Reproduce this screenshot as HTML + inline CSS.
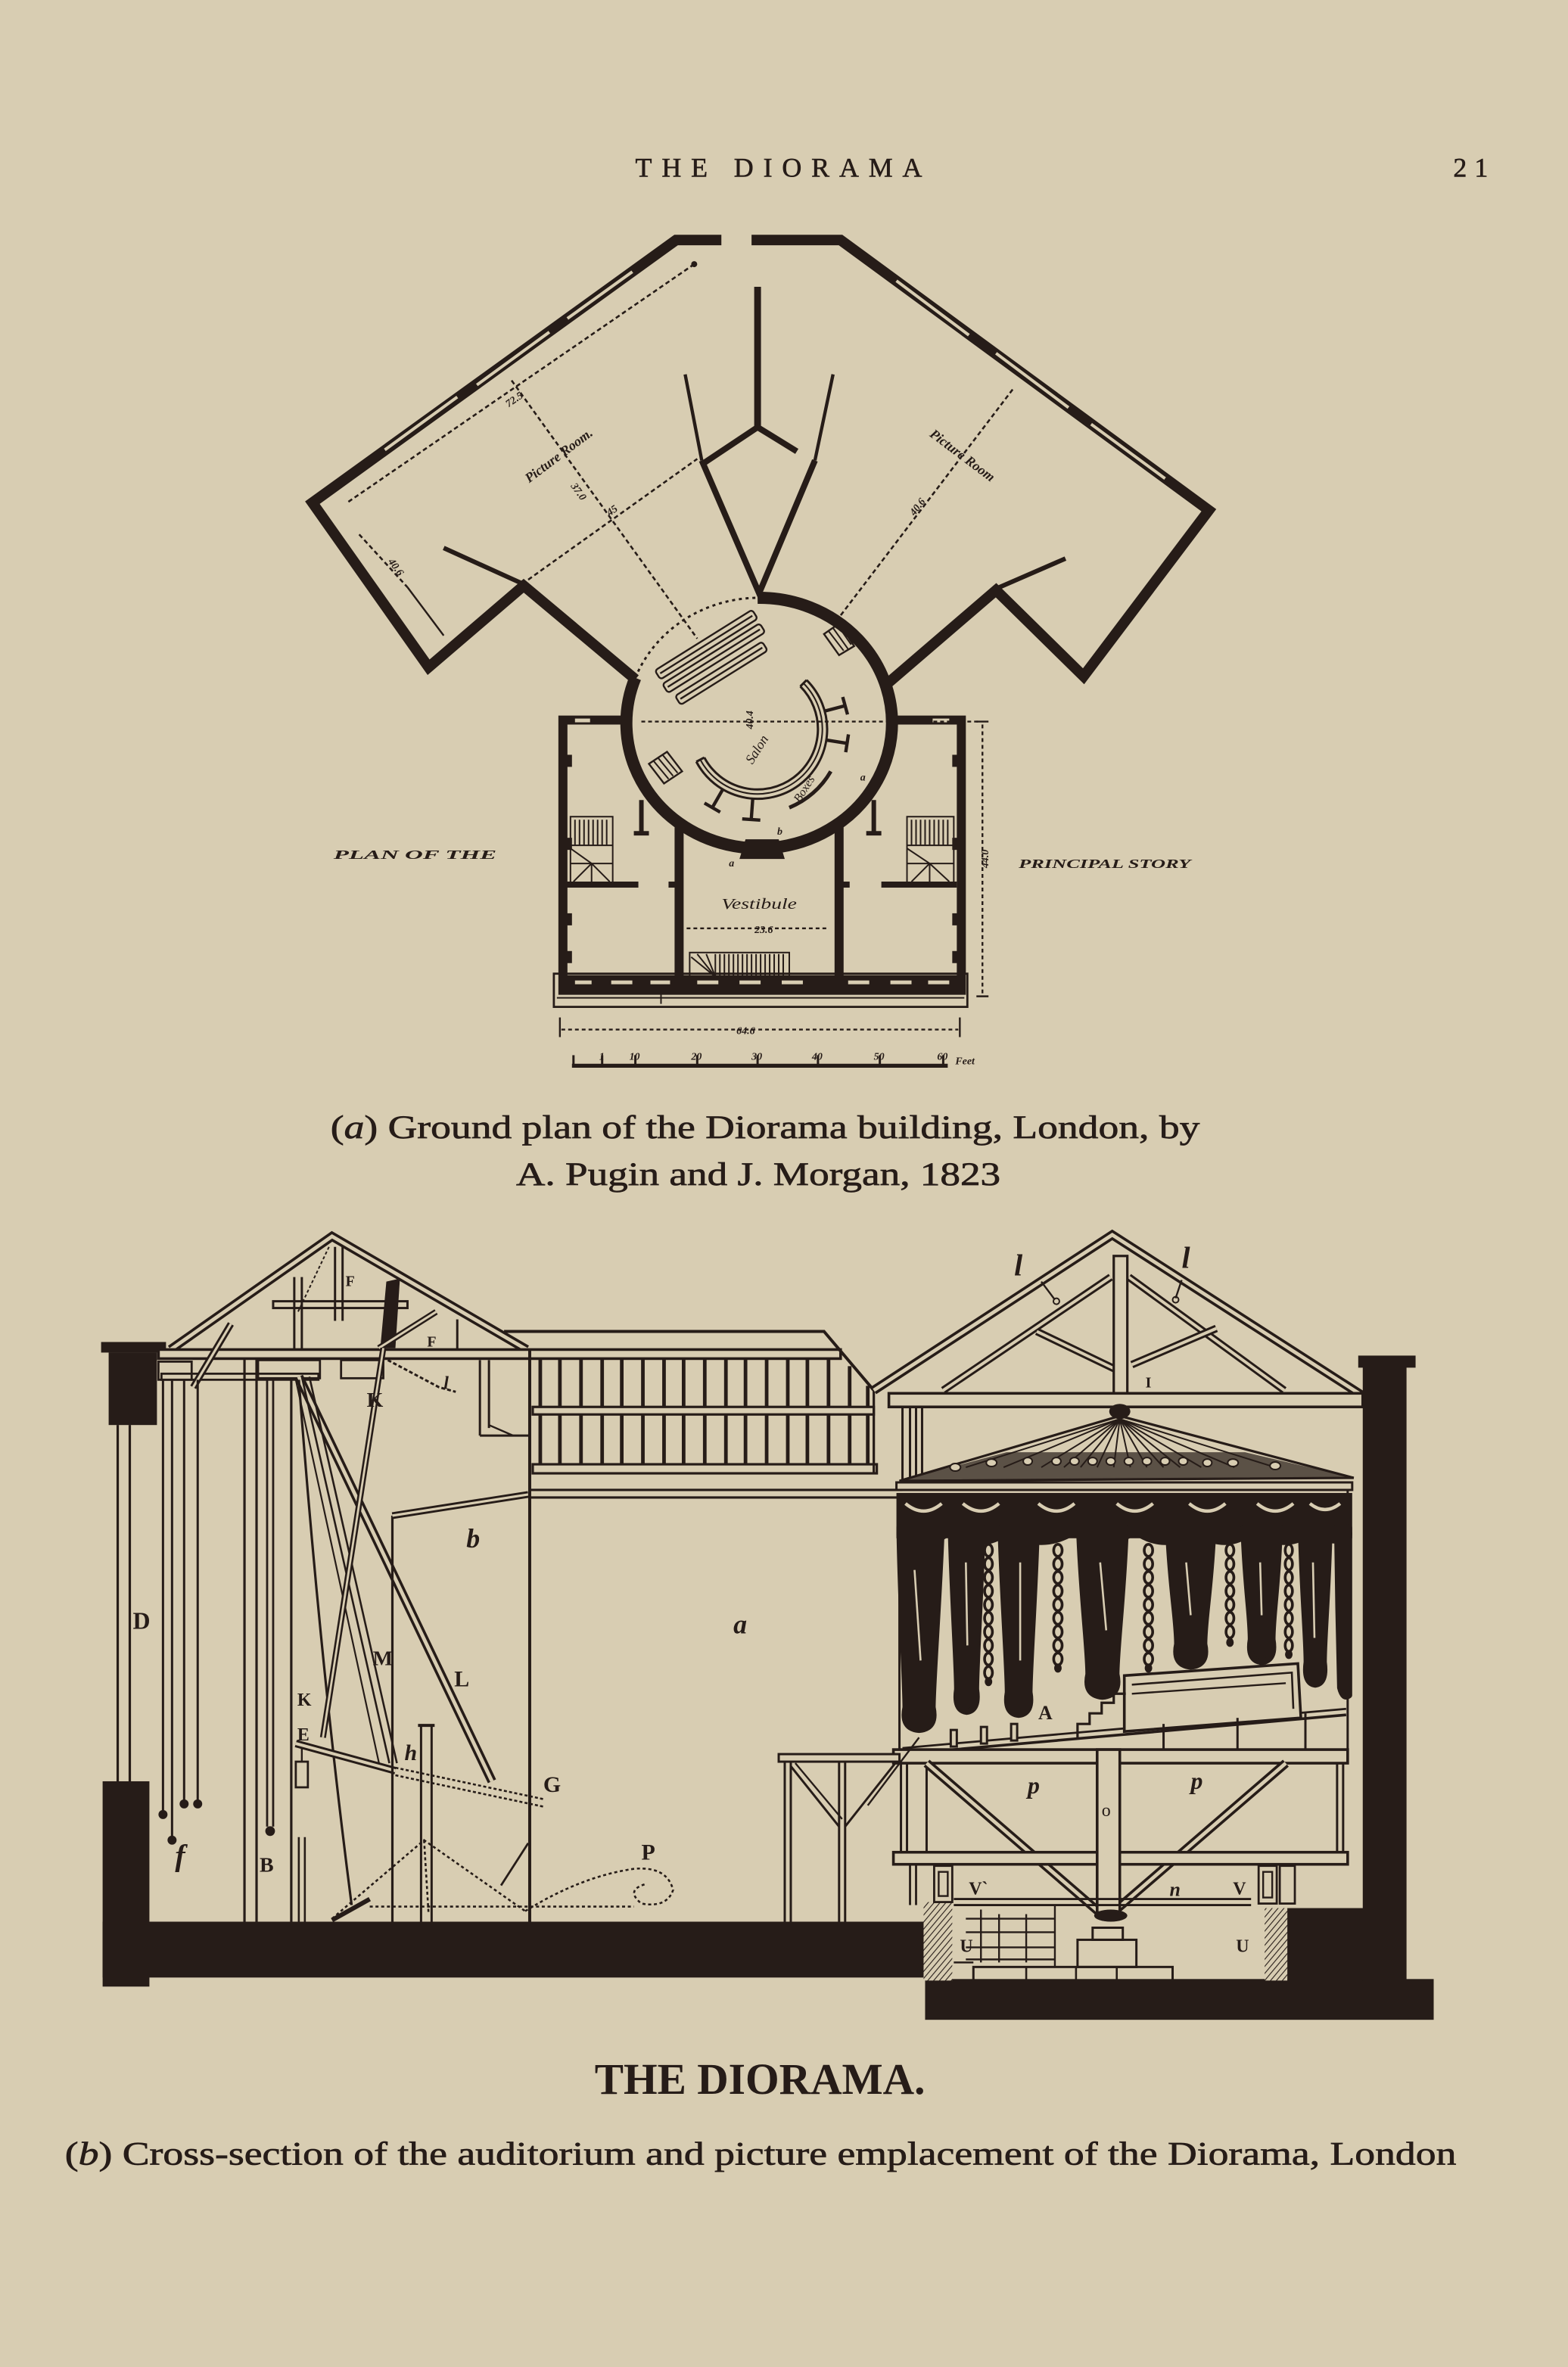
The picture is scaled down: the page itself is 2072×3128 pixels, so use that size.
<!DOCTYPE html>
<html><head><meta charset="utf-8"><title>The Diorama</title>
<style>html,body{margin:0;padding:0;background:#d8cdb2;overflow:hidden}svg{display:block}</style>
</head><body>
<svg xmlns="http://www.w3.org/2000/svg" width="2072" height="3128" viewBox="0 0 1039 1568" preserveAspectRatio="none">
<defs>
<pattern id="hatch" width="3" height="3" patternUnits="userSpaceOnUse" patternTransform="rotate(40)">
<rect width="3" height="3" fill="#d8cdb2"/><line x1="0" y1="0" x2="0" y2="3" stroke="#261c18" stroke-width="1.1"/>
</pattern>
</defs>
<rect width="1039" height="1568" fill="#d8cdb2"/>

<!-- HEADER -->
<g font-family="'Liberation Serif', serif" fill="#261c18" stroke="#261c18" stroke-width="0.3">
<text x="421" y="117" font-size="18" textLength="190" lengthAdjust="spacing">THE DIORAMA</text>
<text x="963" y="117" font-size="18" textLength="23" lengthAdjust="spacing">21</text>
</g>

<!-- ================= PLAN ================= -->
<g stroke="#261c18" fill="none" stroke-linejoin="miter">
<path d="M478,159 L448,159 L207,333 L284,442 L347,388 L421,450" stroke-width="7"/>
<path d="M498,159 L557,159 L801,338 L718,448 L660,391 L589,452" stroke-width="7"/>
<g stroke="#d8cdb2" stroke-width="2">
<line x1="419" y1="180" x2="376" y2="211"/>
<line x1="364" y1="220" x2="316" y2="255"/>
<line x1="303" y1="263" x2="255" y2="298"/>
<line x1="594" y1="186" x2="642" y2="222"/>
<line x1="660" y1="234" x2="708" y2="270"/>
<line x1="723" y1="281" x2="772" y2="317"/>
</g>
<!-- room interior lines -->
<line x1="294" y1="363" x2="347" y2="387" stroke-width="3"/>
<line x1="706" y1="370" x2="660" y2="390" stroke-width="3"/>
<line x1="270" y1="389" x2="294" y2="421" stroke-width="1.2"/>
<!-- central V / Y -->
<line x1="502" y1="190" x2="502" y2="284" stroke-width="4.5"/>
<path d="M466,307 L502,283 L528,299" stroke-width="4"/>
<line x1="454" y1="248" x2="465" y2="305" stroke-width="2.2"/>
<line x1="552" y1="248" x2="540" y2="305" stroke-width="2.2"/>
<path d="M465,305 L503,393 L540,305" stroke-width="4"/>
<!-- dotted dimension lines in rooms -->
<g stroke-width="1.3" stroke-dasharray="3 2">
<line x1="460" y1="175" x2="230" y2="333"/>
<line x1="339" y1="252" x2="462" y2="423"/>
<line x1="350" y1="384" x2="462" y2="304"/>
<line x1="238" y1="354" x2="270" y2="389"/>
<line x1="671" y1="258" x2="556" y2="409"/>
</g>
<circle cx="460" cy="175" r="2" fill="#261c18" stroke="none"/>
<!-- rotunda -->
<path d="M502,396 A88,83 0 1,1 421,449" stroke-width="8"/>
<path d="M421,449 A88,83 0 0,1 502,396" stroke-width="1.5" stroke-dasharray="2 2.5"/>
<!-- main block -->
<path d="M416,477 L373,477 L373,656 L637,656 L637,477 L590,477" stroke-width="6"/>
<rect x="373" y="646" width="264" height="10" fill="#261c18" stroke="none"/>
<g fill="#d8cdb2" stroke="none">
<rect x="381" y="649.5" width="11" height="2.5"/><rect x="405" y="649.5" width="14" height="2.5"/>
<rect x="431" y="649.5" width="13" height="2.5"/><rect x="462" y="649.5" width="14" height="2.5"/>
<rect x="490" y="649.5" width="14" height="2.5"/><rect x="518" y="649.5" width="14" height="2.5"/>
<rect x="562" y="649.5" width="14" height="2.5"/><rect x="590" y="649.5" width="14" height="2.5"/>
<rect x="615" y="649.5" width="14" height="2.5"/>
<rect x="381" y="476" width="10" height="2.5"/><rect x="618" y="476" width="11" height="2.5"/>
</g>
<rect x="367" y="645" width="274" height="22" stroke-width="1.4"/>
<line x1="369" y1="661" x2="639" y2="661" stroke-width="1"/>
<line x1="438" y1="657" x2="438" y2="665" stroke-width="1"/>
<g fill="#261c18" stroke="none">
<rect x="375" y="500" width="4" height="8"/><rect x="375" y="555" width="4" height="8"/>
<rect x="375" y="605" width="4" height="8"/><rect x="375" y="630" width="4" height="8"/>
<rect x="631" y="500" width="4" height="8"/><rect x="631" y="555" width="4" height="8"/>
<rect x="631" y="605" width="4" height="8"/><rect x="631" y="630" width="4" height="8"/>
</g>
<line x1="450" y1="548" x2="450" y2="651" stroke-width="6"/>
<line x1="556" y1="548" x2="556" y2="651" stroke-width="6"/>
<line x1="375" y1="586" x2="423" y2="586" stroke-width="4"/>
<line x1="443" y1="586" x2="450" y2="586" stroke-width="4"/>
<line x1="556" y1="586" x2="563" y2="586" stroke-width="4"/>
<line x1="584" y1="586" x2="634" y2="586" stroke-width="4"/>
<line x1="425" y1="530" x2="425" y2="552" stroke-width="3"/>
<line x1="420" y1="552" x2="430" y2="552" stroke-width="3"/>
<line x1="579" y1="530" x2="579" y2="552" stroke-width="3"/>
<line x1="574" y1="552" x2="584" y2="552" stroke-width="3"/>
<!-- stairs -->
<g stroke-width="1">
<rect x="378" y="541" width="28" height="44"/>
<path d="M381,543 V560 M384,543 V560 M387,543 V560 M390,543 V560 M393,543 V560 M396,543 V560 M399,543 V560 M402,543 V560"/>
<path d="M392,572 L378,562 M392,572 L378,572 M392,572 L380,584 M392,572 L392,585 M392,572 L404,584 M392,572 L406,572 M378,560 H406"/>
<rect x="601" y="541" width="31" height="44"/>
<path d="M604,543 V560 M607,543 V560 M610,543 V560 M613,543 V560 M616,543 V560 M619,543 V560 M622,543 V560 M625,543 V560 M628,543 V560"/>
<path d="M616,572 L601,562 M616,572 L601,572 M616,572 L604,584 M616,572 L616,585 M616,572 L629,584 M616,572 L632,572 M601,560 H632"/>
<rect x="457" y="631" width="66" height="17"/>
<path d="M477,632 V647 M480,632 V647 M483,632 V647 M486,632 V647 M489,632 V647 M492,632 V647 M495,632 V647 M498,632 V647 M501,632 V647 M504,632 V647 M507,632 V647 M510,632 V647 M513,632 V647 M516,632 V647 M519,632 V647"/>
<path d="M474,647 L458,634 M474,647 L462,632 M474,647 L468,632 M474,647 L474,632"/>
</g>
<!-- salon seating strips -->
<g stroke-width="1.2">
<g transform="translate(468,427) rotate(-32)"><rect x="-38" y="-3.5" width="76" height="7" rx="2"/><line x1="-36" y1="0" x2="36" y2="0"/></g>
<g transform="translate(473,436) rotate(-32)"><rect x="-38" y="-3.5" width="76" height="7" rx="2"/><line x1="-36" y1="0" x2="36" y2="0"/></g>
<g transform="translate(478,446) rotate(-32)"><rect x="-34" y="-3.5" width="68" height="7" rx="2"/><line x1="-32" y1="0" x2="32" y2="0"/></g>
</g>
<path d="M546,420 L556,413 L566,428 L556,434 Z" stroke-width="1.2"/>
<path d="M549,418 L559,431 M552,416 L562,430 M555,414 L564,427" stroke-width="1"/>
<path d="M430,506 L442,498 L452,511 L440,519 Z" stroke-width="1.2"/>
<path d="M433,504 L443,516 M436,502 L446,514 M439,500 L449,512" stroke-width="1"/>
<!-- boxes ring -->
<path d="M534.5,450.5 A46,46 0 1,1 461.4,504.6" stroke-width="1.5"/>
<path d="M532.4,452.6 A43,43 0 1,1 464,503.2" stroke-width="1"/>
<path d="M530.3,454.7 A40,40 0 1,1 466.7,501.8" stroke-width="1.5"/>
<line x1="534.5" y1="450.5" x2="530.3" y2="454.7" stroke-width="1.5"/>
<line x1="461.4" y1="504.6" x2="466.7" y2="501.8" stroke-width="1.5"/>
<g stroke-width="2.2">
<line x1="546.4" y1="471.1" x2="560" y2="467.5"/><line x1="558.4" y1="461.7" x2="561.6" y2="473.3"/>
<line x1="547.4" y1="490.2" x2="561.3" y2="492.4"/><line x1="562.2" y1="486.5" x2="560.4" y2="498.3"/>
<line x1="498.8" y1="528.9" x2="497.8" y2="542.9"/><line x1="503.8" y1="543.3" x2="491.8" y2="542.5"/>
<line x1="479" y1="522.8" x2="472" y2="535"/><line x1="477.2" y1="538" x2="466.8" y2="532"/>
</g>
<path d="M550.5,511 A56,56 0 0,1 523,535" stroke-width="2.5"/>
<path d="M494,556 L516,556 L520,569 L490,569 Z" fill="#261c18" stroke="none"/>
<!-- dimension lines -->
<g stroke-width="1.2" stroke-dasharray="2.5 2">
<line x1="425" y1="478" x2="648" y2="478"/>
<line x1="651" y1="480" x2="651" y2="660"/>
<line x1="372" y1="682" x2="635" y2="682"/>
<line x1="455" y1="615" x2="548" y2="615"/>
</g>
<g stroke-width="1.2">
<line x1="371" y1="674" x2="371" y2="687"/><line x1="636" y1="674" x2="636" y2="687"/>
<line x1="647" y1="478" x2="655" y2="478"/><line x1="647" y1="660" x2="655" y2="660"/>
</g>
<!-- scale bar -->
<line x1="379" y1="706" x2="628" y2="706" stroke-width="2.6"/>
<g stroke-width="1.5">
<line x1="380" y1="699" x2="380" y2="706"/><line x1="399" y1="699" x2="399" y2="706"/>
<line x1="421" y1="699" x2="421" y2="706"/><line x1="462" y1="699" x2="462" y2="706"/>
<line x1="502" y1="699" x2="502" y2="706"/><line x1="542" y1="699" x2="542" y2="706"/>
<line x1="583" y1="699" x2="583" y2="706"/><line x1="625" y1="699" x2="625" y2="706"/>
</g>
</g>

<!-- plan labels -->
<g font-family="'Liberation Serif', serif" fill="#261c18" font-style="italic" font-weight="bold">
<text x="221" y="569" font-size="8.5" textLength="108" lengthAdjust="spacingAndGlyphs">PLAN OF THE</text>
<text x="675" y="575" font-size="8.5" textLength="114" lengthAdjust="spacingAndGlyphs">PRINCIPAL STORY</text>
<text x="478" y="602" font-size="10" font-weight="normal" textLength="50" lengthAdjust="spacingAndGlyphs">Vestibule</text>
<text transform="translate(372,304) rotate(-37)" text-anchor="middle" font-size="9">Picture Room.</text>
<text transform="translate(636,304) rotate(37)" text-anchor="middle" font-size="9">Picture Room</text>
<text transform="translate(504,498) rotate(-58)" text-anchor="middle" font-size="9" font-weight="normal">Salon</text>
<text transform="translate(535,524) rotate(-58)" text-anchor="middle" font-size="8" font-weight="normal">Boxes</text>
<g font-size="7">
<text transform="translate(337,270) rotate(-35)">72.5</text>
<text transform="translate(378,322) rotate(54)">37.0</text>
<text transform="translate(404,342) rotate(-35)">45</text>
<text transform="translate(257,372) rotate(54)">40.6</text>
<text transform="translate(606,342) rotate(-53)">40.6</text>
<text transform="translate(499,483) rotate(-90)">40.4</text>
<text transform="translate(655,575) rotate(-90)">44.0</text>
<text x="488" y="685">64.6</text>
<text x="500" y="618">23.6</text>
<text x="570" y="517">a</text><text x="515" y="553">b</text><text x="483" y="574">a</text>
<text x="397" y="702">1</text><text x="417" y="702">10</text><text x="458" y="702">20</text>
<text x="498" y="702">30</text><text x="538" y="702">40</text><text x="579" y="702">50</text>
<text x="621" y="702">60</text><text x="633" y="705">Feet</text>
</g>
</g>

<!-- caption a -->
<g font-family="'Liberation Serif', serif" fill="#261c18" stroke="#261c18" stroke-width="0.35">
<text x="219" y="754" font-size="22" textLength="576" lengthAdjust="spacingAndGlyphs">(<tspan font-style="italic">a</tspan>) Ground plan of the Diorama building, London, by</text>
<text x="342" y="785" font-size="22" textLength="321" lengthAdjust="spacingAndGlyphs">A. Pugin and J. Morgan, 1823</text>
</g>

<!-- ================= SECTION ================= -->
<g stroke="#261c18" fill="none">
<!-- ground & walls -->
<g fill="#261c18" stroke="none">
<rect x="68" y="1273" width="545" height="37"/>
<rect x="68" y="1180" width="31" height="136"/>
<rect x="67" y="889" width="43" height="7"/>
<rect x="72" y="896" width="32" height="48"/>
<rect x="613" y="1311" width="337" height="27"/>
<rect x="853" y="1264" width="52" height="48"/>
<rect x="903" y="905" width="29" height="408"/>
<rect x="900" y="898" width="38" height="8"/>
</g>
<rect x="612" y="1260" width="19" height="52" fill="url(#hatch)" stroke="none"/>
<rect x="838" y="1264" width="15" height="48" fill="url(#hatch)" stroke="none"/>
<line x1="78" y1="944" x2="78" y2="1180" stroke-width="1.6"/>
<line x1="86" y1="944" x2="86" y2="1180" stroke-width="1.6"/>

<!-- left roof -->
<path d="M113,894 L220,819 L349,894" stroke-width="6" stroke-linejoin="miter"/>
<path d="M113,894 L220,819 L349,894" stroke-width="2.4" stroke="#d8cdb2" stroke-linejoin="miter"/>
<rect x="105" y="894" width="452" height="6" stroke-width="1.8" fill="#d8cdb2"/>
<rect x="107" y="910" width="104" height="4" stroke-width="1.4"/>
<rect x="171" y="901" width="41" height="12" stroke-width="1.4"/>
<rect x="226" y="901" width="28" height="12" stroke-width="1.4"/>
<rect x="105" y="902" width="22" height="12" stroke-width="1.4"/>
<rect x="181" y="862" width="89" height="4.5" stroke-width="1.5"/>
<line x1="195" y1="846" x2="195" y2="894" stroke-width="1.5"/>
<line x1="200" y1="846" x2="200" y2="894" stroke-width="1.5"/>
<line x1="222" y1="826" x2="222" y2="875" stroke-width="1.5"/>
<line x1="227" y1="826" x2="227" y2="875" stroke-width="1.5"/>
<line x1="218" y1="826" x2="197" y2="870" stroke-width="1" stroke-dasharray="2 1.5"/>
<path d="M256,849 L265,847 L262,893 L252,893 Z" fill="#261c18" stroke="none"/>
<path d="M153,877 L128,919" stroke-width="4.5"/>
<path d="M153,877 L128,919" stroke-width="1.6" stroke="#d8cdb2"/>
<path d="M251,893 L289,869" stroke-width="4"/>
<path d="M251,893 L289,869" stroke-width="1.5" stroke="#d8cdb2"/>
<line x1="303" y1="874" x2="303" y2="894" stroke-width="1.5"/>
<path d="M257,901 L291,919 L302,922" stroke-width="1.5" stroke-dasharray="2.5 1.5"/>
<!-- posts and ropes -->
<line x1="162" y1="900" x2="162" y2="1273" stroke-width="1.6"/>
<line x1="170" y1="900" x2="170" y2="1273" stroke-width="1.6"/>
<line x1="193" y1="913" x2="193" y2="1273" stroke-width="1.6"/>
<line x1="198" y1="1217" x2="198" y2="1273" stroke-width="1.3"/>
<line x1="202" y1="1217" x2="202" y2="1273" stroke-width="1.3"/>
<line x1="108" y1="914" x2="108" y2="1200" stroke-width="1.5"/>
<line x1="114" y1="914" x2="114" y2="1217" stroke-width="1.5"/>
<line x1="122" y1="914" x2="122" y2="1193" stroke-width="1.5"/>
<line x1="131" y1="914" x2="131" y2="1193" stroke-width="1.5"/>
<line x1="177" y1="913" x2="177" y2="1210" stroke-width="1.4"/>
<line x1="181" y1="913" x2="181" y2="1210" stroke-width="1.4"/>
<g fill="#261c18" stroke="none">
<circle cx="108" cy="1202" r="3"/><circle cx="114" cy="1219" r="3"/>
<circle cx="122" cy="1195" r="3"/><circle cx="131" cy="1195" r="3"/>
<circle cx="179" cy="1213" r="3.2"/>
</g>
<!-- diagonals -->
<line x1="198" y1="912" x2="326" y2="1180" stroke-width="6"/>
<line x1="198" y1="912" x2="326" y2="1180" stroke-width="2.4" stroke="#d8cdb2"/>
<line x1="200" y1="912" x2="258" y2="1168" stroke-width="1.3"/>
<line x1="205" y1="912" x2="263" y2="1168" stroke-width="1.3"/>
<line x1="196" y1="914" x2="252" y2="1172" stroke-width="1.1"/>
<path d="M198,914 Q212,1100 233,1262" stroke-width="1.6"/>
<line x1="254" y1="893" x2="214" y2="1151" stroke-width="4"/>
<line x1="254" y1="893" x2="214" y2="1151" stroke-width="1.4" stroke="#d8cdb2"/>
<!-- lever -->
<line x1="196" y1="1155" x2="262" y2="1173" stroke-width="5"/>
<line x1="196" y1="1155" x2="262" y2="1173" stroke-width="2" stroke="#d8cdb2"/>
<line x1="262" y1="1171" x2="361" y2="1192" stroke-width="1.3" stroke-dasharray="2 1.5"/>
<line x1="262" y1="1176" x2="361" y2="1197" stroke-width="1.3" stroke-dasharray="2 1.5"/>
<rect x="196" y="1167" width="8" height="17" stroke-width="1.4"/>
<line x1="200" y1="1158" x2="200" y2="1167" stroke-width="1.2"/>
<line x1="279" y1="1143" x2="279" y2="1273" stroke-width="1.5"/>
<line x1="286" y1="1143" x2="286" y2="1273" stroke-width="1.5"/>
<line x1="277" y1="1143" x2="288" y2="1143" stroke-width="2"/>
<!-- b partition & a wall -->
<line x1="260" y1="1004" x2="260" y2="1273" stroke-width="1.6"/>
<line x1="260" y1="1004" x2="350" y2="990" stroke-width="4.5"/>
<line x1="260" y1="1004" x2="350" y2="990" stroke-width="1.6" stroke="#d8cdb2"/>
<line x1="351" y1="894" x2="351" y2="1273" stroke-width="2"/>
<line x1="318" y1="901" x2="318" y2="951" stroke-width="1.5"/>
<line x1="324" y1="901" x2="324" y2="946" stroke-width="1.5"/>
<line x1="318" y1="951" x2="351" y2="951" stroke-width="1.5"/>
<line x1="324" y1="944" x2="340" y2="951" stroke-width="1.2"/>
<!-- dotted mechanism -->
<g stroke-width="1.3" stroke-dasharray="2 1.8">
<path d="M220,1271 L281,1219 L348,1266"/>
<line x1="245" y1="1263" x2="420" y2="1263"/>
<path d="M348,1266 Q385,1243 420,1238 Q442,1236 446,1252 Q442,1264 425,1261 Q414,1252 428,1248"/>
<line x1="281" y1="1219" x2="284" y2="1268"/>
</g>
<line x1="350" y1="1221" x2="332" y2="1249" stroke-width="1.4"/>
<line x1="220" y1="1272" x2="245" y2="1258" stroke-width="3"/>

<!-- gallery -->
<path d="M334,882 L546,882 L579,921" stroke-width="2"/>
<g stroke-width="2.4">
<line x1="358" y1="900" x2="358" y2="970"/><line x1="371" y1="900" x2="371" y2="970"/>
<line x1="385" y1="900" x2="385" y2="970"/><line x1="399" y1="900" x2="399" y2="970"/>
<line x1="412" y1="900" x2="412" y2="970"/><line x1="426" y1="900" x2="426" y2="970"/>
<line x1="440" y1="900" x2="440" y2="970"/><line x1="453" y1="900" x2="453" y2="970"/>
<line x1="467" y1="900" x2="467" y2="970"/><line x1="481" y1="900" x2="481" y2="970"/>
<line x1="494" y1="900" x2="494" y2="970"/><line x1="508" y1="900" x2="508" y2="970"/>
<line x1="522" y1="900" x2="522" y2="970"/><line x1="535" y1="900" x2="535" y2="970"/>
<line x1="549" y1="900" x2="549" y2="970"/><line x1="563" y1="905" x2="563" y2="970"/>
<line x1="575" y1="918" x2="575" y2="970"/>
</g>
<rect x="353" y="932" width="226" height="5" stroke-width="1.6" fill="#d8cdb2"/>
<rect x="353" y="970" width="228" height="6" stroke-width="1.6" fill="#d8cdb2"/>
<line x1="579" y1="921" x2="579" y2="976" stroke-width="1.6"/>
<line x1="351" y1="987" x2="598" y2="987" stroke-width="1.6"/>
<line x1="351" y1="992" x2="598" y2="992" stroke-width="1.6"/>

<!-- right roof -->
<path d="M579,921 L737,818 L902,924" stroke-width="6" stroke-linejoin="miter"/>
<path d="M579,921 L737,818 L902,924" stroke-width="2.4" stroke="#d8cdb2" stroke-linejoin="miter"/>
<line x1="625" y1="921" x2="736" y2="846" stroke-width="5"/>
<line x1="625" y1="921" x2="736" y2="846" stroke-width="2" stroke="#d8cdb2"/>
<line x1="851" y1="921" x2="748" y2="846" stroke-width="5"/>
<line x1="851" y1="921" x2="748" y2="846" stroke-width="2" stroke="#d8cdb2"/>
<line x1="687" y1="882" x2="739" y2="907" stroke-width="5"/>
<line x1="687" y1="882" x2="739" y2="907" stroke-width="2" stroke="#d8cdb2"/>
<line x1="806" y1="880" x2="750" y2="904" stroke-width="5"/>
<line x1="806" y1="880" x2="750" y2="904" stroke-width="2" stroke="#d8cdb2"/>
<rect x="738" y="832" width="9" height="91" stroke-width="1.6" fill="#d8cdb2"/>
<rect x="589" y="923" width="314" height="9" stroke-width="1.8" fill="#d8cdb2"/>
<line x1="690" y1="849" x2="699" y2="861" stroke-width="1.2"/>
<circle cx="700" cy="862" r="2" stroke-width="1"/>
<line x1="783" y1="848" x2="779" y2="860" stroke-width="1.2"/>
<circle cx="779" cy="861" r="2" stroke-width="1"/>
<line x1="598" y1="932" x2="598" y2="983" stroke-width="1.5"/>
<line x1="603" y1="932" x2="603" y2="983" stroke-width="1.5"/>
<line x1="607" y1="932" x2="607" y2="983" stroke-width="1.5"/>
<line x1="611" y1="932" x2="611" y2="983" stroke-width="1.5"/>

<!-- canopy -->
<polygon points="742,938 596,981 897,979" fill="#d8cdb2" stroke-width="1.6"/>
<path d="M667,962 L825,962 L897,979 L596,981 Z" fill="#261c18" stroke="none" opacity="0.7"/>
<g stroke-width="1">
<line x1="742" y1="940" x2="640" y2="972"/><line x1="742" y1="940" x2="665" y2="972"/>
<line x1="742" y1="940" x2="690" y2="972"/><line x1="742" y1="940" x2="705" y2="972"/>
<line x1="742" y1="940" x2="716" y2="972"/><line x1="742" y1="940" x2="727" y2="972"/>
<line x1="742" y1="940" x2="738" y2="972"/><line x1="742" y1="940" x2="749" y2="972"/>
<line x1="742" y1="940" x2="760" y2="972"/><line x1="742" y1="940" x2="771" y2="972"/>
<line x1="742" y1="940" x2="782" y2="972"/><line x1="742" y1="940" x2="796" y2="972"/>
<line x1="742" y1="940" x2="818" y2="972"/><line x1="742" y1="940" x2="845" y2="972"/>
</g>
<g fill="#d8cdb2" stroke-width="1">
<ellipse cx="633" cy="972" rx="3.5" ry="2.5"/><ellipse cx="657" cy="969" rx="3.5" ry="2.5"/>
<ellipse cx="681" cy="968" rx="3" ry="2.5"/><ellipse cx="700" cy="968" rx="3" ry="2.5"/>
<ellipse cx="712" cy="968" rx="3" ry="2.5"/><ellipse cx="724" cy="968" rx="3" ry="2.5"/>
<ellipse cx="736" cy="968" rx="3" ry="2.5"/><ellipse cx="748" cy="968" rx="3" ry="2.5"/>
<ellipse cx="760" cy="968" rx="3" ry="2.5"/><ellipse cx="772" cy="968" rx="3" ry="2.5"/>
<ellipse cx="784" cy="968" rx="3" ry="2.5"/><ellipse cx="800" cy="969" rx="3" ry="2.5"/>
<ellipse cx="817" cy="969" rx="3.5" ry="2.5"/><ellipse cx="845" cy="971" rx="3.5" ry="2.5"/>
</g>
<ellipse cx="742" cy="935" rx="7" ry="5" fill="#261c18" stroke="none"/>
<rect x="594" y="982" width="302" height="5" stroke-width="1.5" fill="#d8cdb2"/>

<!-- curtains -->
<g fill="#261c18" stroke="#261c18" stroke-width="4" stroke-linejoin="round">
<rect x="594" y="989" width="302" height="30" stroke="none"/>
<path stroke="none" d="M594,1017 Q612,1030 630,1017 Q650,1030 668,1017 Q690,1030 712,1017 Q732,1030 752,1017 Q772,1030 792,1017 Q812,1030 830,1017 Q852,1030 870,1017 Q885,1028 896,1017 L896,1015 L594,1015 Z"/>
<path d="M596,1012 L624,1012 C622.5,1055 618,1115 618,1131 Q621,1145 609,1146 Q597,1145 600,1131 C600,1115 596.5,1055 596,1012 Z"/>
<path d="M630,1012 L651,1012 C650,1055 646.8,1103 646.8,1119 Q648.9,1133 640.5,1134 Q632.1,1133 634.2,1119 C634.2,1103 631,1055 630,1012 Z"/>
<path d="M663,1012 L687,1012 C685.8,1055 682.2,1105 682.2,1121 Q684.6,1135 675,1136 Q665.4,1135 667.8,1121 C667.8,1105 664.2,1055 663,1012 Z"/>
<path d="M715,1012 L746,1012 C744.5,1055 739.8,1093 739.8,1109 Q742.9,1123 730.5,1124 Q718.1,1123 721.2,1109 C721.2,1093 716.5,1055 715,1012 Z"/>
<path d="M774,1012 L804,1012 C802.5,1050 798,1073 798,1089 Q801,1103 789,1104 Q777,1103 780,1089 C780,1073 775.5,1050 774,1012 Z"/>
<path d="M824,1012 L848,1012 C846.8,1050 843.2,1070 843.2,1086 Q845.6,1100 836,1101 Q826.4,1100 828.8,1086 C828.8,1070 825.2,1050 824,1012 Z"/>
<path d="M862,1012 L881,1012 C880,1055 877.2,1085 877.2,1101 Q879.1,1115 871.5,1116 Q863.9,1115 865.8,1101 C865.8,1085 863,1055 862,1012 Z"/>
<path d="M886,1012 L894,1012 L894,1123 Q890,1126 888,1118 C887,1080 886.5,1050 886,1012 Z"/>
</g>
<g stroke="#d8cdb2" stroke-width="2.2">
<path d="M600,996 Q612,1006 624,996"/><path d="M638,996 Q650,1006 662,996"/>
<path d="M688,996 Q700,1006 712,996"/><path d="M740,996 Q752,1006 764,996"/>
<path d="M788,996 Q800,1006 812,996"/><path d="M833,996 Q845,1006 857,996"/>
<path d="M868,996 Q878,1004 888,996"/>
</g>
<g stroke="#d8cdb2" stroke-width="1.3">
<line x1="606" y1="1040" x2="610" y2="1100"/><line x1="640" y1="1035" x2="641" y2="1090"/>
<line x1="676" y1="1035" x2="676" y2="1100"/><line x1="729" y1="1035" x2="733" y2="1080"/>
<line x1="786" y1="1035" x2="789" y2="1070"/><line x1="835" y1="1035" x2="836" y2="1070"/>
<line x1="870" y1="1035" x2="871" y2="1085"/>
</g>
<g stroke-width="1.8">
<ellipse cx="655" cy="1027" rx="2.6" ry="4"/><ellipse cx="655" cy="1036" rx="2.6" ry="4"/><ellipse cx="655" cy="1045" rx="2.6" ry="4"/><ellipse cx="655" cy="1054" rx="2.6" ry="4"/><ellipse cx="655" cy="1063" rx="2.6" ry="4"/><ellipse cx="655" cy="1072" rx="2.6" ry="4"/><ellipse cx="655" cy="1081" rx="2.6" ry="4"/><ellipse cx="655" cy="1090" rx="2.6" ry="4"/><ellipse cx="655" cy="1099" rx="2.6" ry="4"/><ellipse cx="655" cy="1108" rx="2.6" ry="4"/>
<ellipse cx="701" cy="1027" rx="2.8" ry="4"/><ellipse cx="701" cy="1036" rx="2.8" ry="4"/><ellipse cx="701" cy="1045" rx="2.8" ry="4"/><ellipse cx="701" cy="1054" rx="2.8" ry="4"/><ellipse cx="701" cy="1063" rx="2.8" ry="4"/><ellipse cx="701" cy="1072" rx="2.8" ry="4"/><ellipse cx="701" cy="1081" rx="2.8" ry="4"/><ellipse cx="701" cy="1090" rx="2.8" ry="4"/><ellipse cx="701" cy="1099" rx="2.8" ry="4"/>
<ellipse cx="761" cy="1027" rx="2.8" ry="4"/><ellipse cx="761" cy="1036" rx="2.8" ry="4"/><ellipse cx="761" cy="1045" rx="2.8" ry="4"/><ellipse cx="761" cy="1054" rx="2.8" ry="4"/><ellipse cx="761" cy="1063" rx="2.8" ry="4"/><ellipse cx="761" cy="1072" rx="2.8" ry="4"/><ellipse cx="761" cy="1081" rx="2.8" ry="4"/><ellipse cx="761" cy="1090" rx="2.8" ry="4"/><ellipse cx="761" cy="1099" rx="2.8" ry="4"/>
<ellipse cx="815" cy="1027" rx="2.6" ry="4"/><ellipse cx="815" cy="1036" rx="2.6" ry="4"/><ellipse cx="815" cy="1045" rx="2.6" ry="4"/><ellipse cx="815" cy="1054" rx="2.6" ry="4"/><ellipse cx="815" cy="1063" rx="2.6" ry="4"/><ellipse cx="815" cy="1072" rx="2.6" ry="4"/><ellipse cx="815" cy="1081" rx="2.6" ry="4"/>
<ellipse cx="854" cy="1027" rx="2.4" ry="4"/><ellipse cx="854" cy="1036" rx="2.4" ry="4"/><ellipse cx="854" cy="1045" rx="2.4" ry="4"/><ellipse cx="854" cy="1054" rx="2.4" ry="4"/><ellipse cx="854" cy="1063" rx="2.4" ry="4"/><ellipse cx="854" cy="1072" rx="2.4" ry="4"/><ellipse cx="854" cy="1081" rx="2.4" ry="4"/><ellipse cx="854" cy="1090" rx="2.4" ry="4"/>
</g>
<g fill="#261c18" stroke="none">
<ellipse cx="655" cy="1114" rx="2.5" ry="3"/><ellipse cx="701" cy="1105" rx="2.5" ry="3"/>
<ellipse cx="761" cy="1105" rx="2.5" ry="3"/><ellipse cx="815" cy="1088" rx="2.5" ry="3"/>
<ellipse cx="854" cy="1096" rx="2.5" ry="3"/>
</g>
<line x1="596" y1="1000" x2="596" y2="1160" stroke-width="1.5"/>
<line x1="893" y1="987" x2="893" y2="1160" stroke-width="1.5"/>

<!-- stage -->
<line x1="598" y1="1162" x2="892" y2="1136" stroke-width="1.8"/>
<line x1="598" y1="1158" x2="892" y2="1132" stroke-width="1.4"/>
<polygon points="745,1110 860,1102 862,1138 745,1147" fill="#d8cdb2" stroke-width="1.8"/>
<polyline points="750,1116 856,1108 857,1132" stroke-width="1.3"/>
<line x1="750" y1="1122" x2="852" y2="1115" stroke-width="1.2"/>
<polyline points="714,1151 714,1142 722,1142 722,1135 730,1135 730,1128 738,1128 738,1122 746,1122" stroke-width="1.6"/>
<g fill="#d8cdb2" stroke-width="1.5">
<rect x="630" y="1146" width="4" height="11"/><rect x="650" y="1144" width="4" height="11"/><rect x="670" y="1142" width="4" height="11"/>
</g>
<line x1="771" y1="1142" x2="771" y2="1159" stroke-width="1.5"/>
<line x1="820" y1="1138" x2="820" y2="1159" stroke-width="1.5"/>
<line x1="865" y1="1135" x2="865" y2="1159" stroke-width="1.5"/>

<!-- understructure -->
<rect x="592" y="1159" width="301" height="9" stroke-width="1.8" fill="#d8cdb2"/>
<line x1="597" y1="1168" x2="597" y2="1227" stroke-width="1.5"/>
<line x1="601" y1="1168" x2="601" y2="1227" stroke-width="1.5"/>
<line x1="614" y1="1168" x2="614" y2="1227" stroke-width="1.5"/>
<line x1="886" y1="1168" x2="886" y2="1227" stroke-width="1.5"/>
<line x1="890" y1="1168" x2="890" y2="1227" stroke-width="1.5"/>
<line x1="614" y1="1168" x2="731" y2="1269" stroke-width="6"/>
<line x1="614" y1="1168" x2="731" y2="1269" stroke-width="2.4" stroke="#d8cdb2"/>
<line x1="852" y1="1168" x2="735" y2="1269" stroke-width="6"/>
<line x1="852" y1="1168" x2="735" y2="1269" stroke-width="2.4" stroke="#d8cdb2"/>
<rect x="592" y="1227" width="301" height="8" stroke-width="1.8" fill="#d8cdb2"/>
<rect x="727" y="1159" width="15" height="108" stroke-width="1.8" fill="#d8cdb2"/>
<ellipse cx="736" cy="1269" rx="11" ry="4" fill="#261c18" stroke="none"/>
<line x1="603" y1="1235" x2="603" y2="1262" stroke-width="1.4"/>
<line x1="607" y1="1235" x2="607" y2="1262" stroke-width="1.4"/>
<rect x="619" y="1236" width="12" height="24" stroke-width="1.4"/>
<rect x="622" y="1240" width="6" height="16" stroke-width="1.2"/>
<rect x="834" y="1236" width="12" height="25" stroke-width="1.4"/>
<rect x="837" y="1240" width="6" height="17" stroke-width="1.2"/>
<rect x="848" y="1236" width="10" height="25" stroke-width="1.4"/>
<line x1="632" y1="1258" x2="829" y2="1258" stroke-width="1.4"/>
<line x1="632" y1="1262" x2="829" y2="1262" stroke-width="1.4"/>
<!-- basement -->
<g stroke-width="1.2">
<line x1="640" y1="1271" x2="699" y2="1271"/><line x1="640" y1="1280" x2="699" y2="1280"/>
<line x1="640" y1="1290" x2="699" y2="1290"/><line x1="640" y1="1298" x2="699" y2="1298"/>
<line x1="650" y1="1265" x2="650" y2="1300"/><line x1="662" y1="1268" x2="662" y2="1300"/>
<line x1="680" y1="1268" x2="680" y2="1300"/><line x1="699" y1="1262" x2="699" y2="1303"/>
</g>
<rect x="724" y="1277" width="20" height="8" stroke-width="1.5"/>
<rect x="714" y="1285" width="39" height="18" stroke-width="1.5"/>
<rect x="645" y="1303" width="132" height="9" stroke-width="1.5"/>
<line x1="680" y1="1303" x2="680" y2="1312" stroke-width="1.3"/>
<line x1="713" y1="1303" x2="713" y2="1312" stroke-width="1.3"/>
<line x1="740" y1="1303" x2="740" y2="1312" stroke-width="1.3"/>
<line x1="632" y1="1300" x2="645" y2="1300" stroke-width="1.3"/>

<!-- left scaffold -->
<rect x="516" y="1162" width="80" height="5" stroke-width="1.5" fill="#d8cdb2"/>
<line x1="520" y1="1167" x2="520" y2="1273" stroke-width="1.5"/>
<line x1="524" y1="1167" x2="524" y2="1273" stroke-width="1.5"/>
<line x1="556" y1="1167" x2="556" y2="1273" stroke-width="1.5"/>
<line x1="560" y1="1167" x2="560" y2="1273" stroke-width="1.5"/>
<line x1="524" y1="1170" x2="556" y2="1210" stroke-width="1.5"/>
<line x1="527" y1="1168" x2="558" y2="1205" stroke-width="1.2"/>
<line x1="594" y1="1167" x2="560" y2="1210" stroke-width="1.5"/>
<line x1="575" y1="1196" x2="609" y2="1151" stroke-width="1.2"/>
</g>

<!-- section labels -->
<g font-family="'Liberation Serif', serif" fill="#261c18" font-weight="bold">
<text x="88" y="1079" font-size="16">D</text>
<text x="116" y="1236" font-size="20" font-style="italic">f</text>
<text x="172" y="1240" font-size="14">B</text>
<text x="197" y="1130" font-size="12">K</text>
<text x="197" y="1153" font-size="12">E</text>
<text x="247" y="1103" font-size="14">M</text>
<text x="301" y="1117" font-size="15">L</text>
<text x="309" y="1025" font-size="18" font-style="italic">b</text>
<text x="486" y="1082" font-size="18" font-style="italic">a</text>
<text x="360" y="1187" font-size="15">G</text>
<text x="425" y="1232" font-size="15">P</text>
<text x="268" y="1166" font-size="15" font-style="italic">h</text>
<text x="243" y="932" font-size="14">K</text>
<text x="229" y="852" font-size="10">F</text>
<text x="283" y="892" font-size="10">F</text>
<text x="294" y="920" font-size="12" font-style="italic">l</text>
<text x="672" y="845" font-size="20" font-style="italic">l</text>
<text x="783" y="840" font-size="20" font-style="italic">l</text>
<text x="759" y="919" font-size="10">I</text>
<text x="688" y="1139" font-size="13">A</text>
<text x="681" y="1188" font-size="16" font-style="italic">p</text>
<text x="789" y="1185" font-size="16" font-style="italic">p</text>
<text x="730" y="1203" font-size="12" font-weight="normal">o</text>
<text x="642" y="1255" font-size="12">V`</text>
<text x="775" y="1256" font-size="13" font-style="italic">n</text>
<text x="817" y="1255" font-size="12">V</text>
<text x="636" y="1293" font-size="12">U</text>
<text x="819" y="1293" font-size="12">U</text>
</g>

<!-- captions b -->
<g font-family="'Liberation Serif', serif" fill="#261c18">
<text x="394" y="1387" font-size="29" font-weight="bold" textLength="219" lengthAdjust="spacingAndGlyphs">THE DIORAMA.</text>
<text x="43" y="1434" font-size="22" stroke="#261c18" stroke-width="0.35" textLength="922" lengthAdjust="spacingAndGlyphs">(<tspan font-style="italic">b</tspan>) Cross-section of the auditorium and picture emplacement of the Diorama, London</text>
</g>
</svg>
</body></html>
